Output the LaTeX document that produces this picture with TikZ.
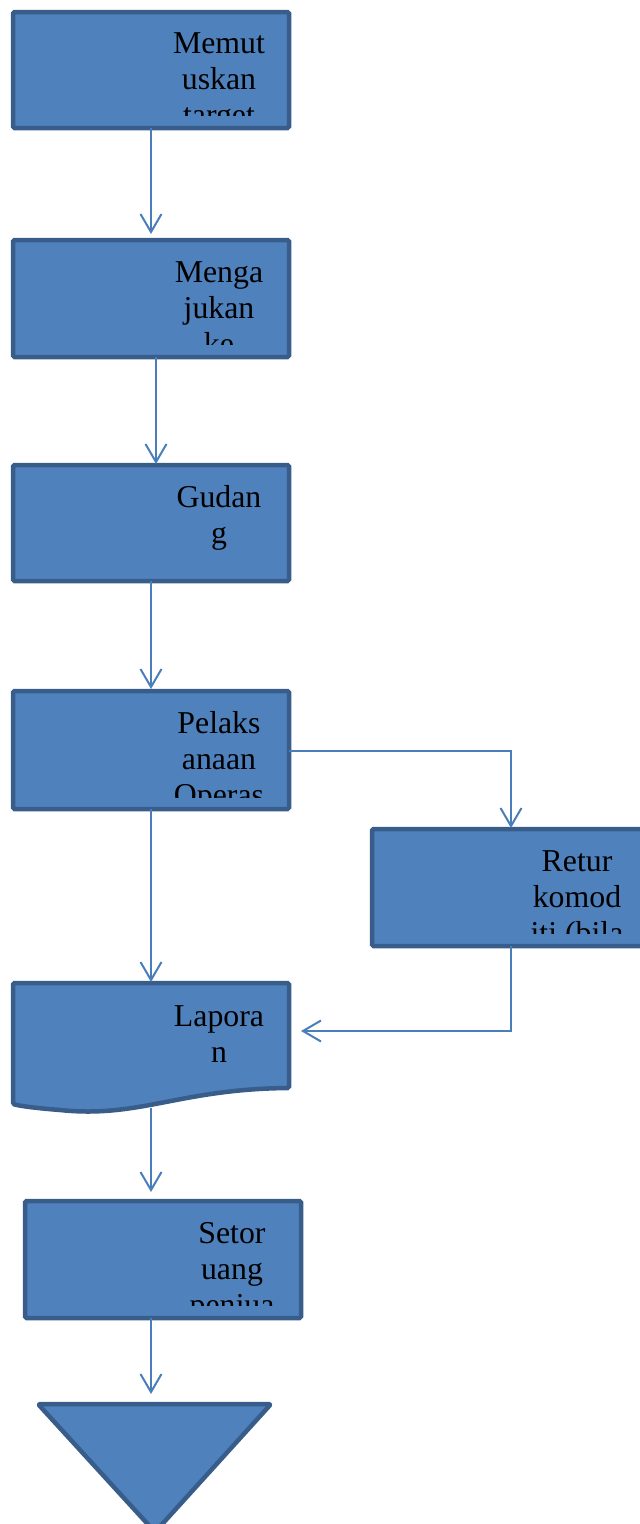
\documentclass[tikz,border=0pt]{standalone}
\usepackage{fontspec}
\setmainfont{Liberation Serif}
\usetikzlibrary{arrows.meta}
\definecolor{boxfill}{HTML}{4F81BD}
\definecolor{boxline}{HTML}{385D8A}
\definecolor{arrowc}{HTML}{4A7EBB}
\begin{document}
\begin{tikzpicture}[x=1pt,y=-1pt,
  procbox/.style={draw=boxline,fill=boxfill,line width=4.5pt,rounded corners=1.5pt},
  txt/.style={anchor=base,inner sep=0pt,font=\fontsize{31.8}{36}\selectfont,text=black},
  conn/.style={draw=arrowc,line width=2pt,-{Straight Barb[length=18pt,width=21pt]}},
  plain/.style={draw=arrowc,line width=2pt}]
\useasboundingbox (0,0) rectangle (640,1524);

% box 1
\draw[procbox] (13,12) rectangle (289,128);
\coordinate (b1s) at (151,128);
\begin{scope}
\clip (15,14) rectangle (287,115);
\node[txt] (t1a) at (219,53) {Memut};
\node[txt] (t1b) at (219,89) {uskan};
\node[txt] (t1c) at (219,125) {target};
\end{scope}

% box 2
\draw[procbox] (13,240) rectangle (289,357);
\coordinate (b2s) at (156,357);
\begin{scope}
\clip (15,242) rectangle (287,344);
\node[txt] (t2a) at (219,282) {Menga};
\node[txt] (t2b) at (219,318) {jukan};
\node[txt] (t2c) at (219,354) {ke};
\end{scope}

% box 3
\draw[procbox] (13,465) rectangle (289,581);
\coordinate (b3s) at (151,581);
\begin{scope}
\clip (15,467) rectangle (287,568);
\node[txt] (t3a) at (219,507) {Gudan};
\node[txt] (t3b) at (219,543) {g};
\end{scope}

% box 4
\draw[procbox] (13,691) rectangle (289,809);
\coordinate (b4s) at (151,809);
\coordinate (b4e) at (289,751);
\begin{scope}
\clip (15,693) rectangle (287,797);
\node[txt] (t4a) at (219,733) {Pelaks};
\node[txt] (t4b) at (219,769) {anaan};
\node[txt] (t4c) at (219,805) {Operas};
\end{scope}

% box 5 (Retur)
\draw[procbox] (372,829) rectangle (650,946);
\coordinate (b5s) at (511,946);
\begin{scope}
\clip (374,831) rectangle (640,933);
\node[txt] (t5a) at (577,871) {Retur};
\node[txt] (t5b) at (577,907) {komod};
\node[txt] (t5c) at (577,943) {iti (bila};
\end{scope}

% document (Laporan)
\draw[procbox] (13,983) -- (289,983) -- (289,1088)
  .. controls (180,1089) and (140,1118) .. (60,1110)
  .. controls (35,1108) and (20,1106) .. (13,1104) -- cycle;
\coordinate (b6e) at (301,1031);
\coordinate (b6s) at (151,1108);
\node[txt] (t6a) at (219,1026) {Lapora};
\node[txt] (t6b) at (219,1062) {n};

% box 7 (Setor)
\draw[procbox] (25,1201) rectangle (301,1318);
\coordinate (b7s) at (151,1318);
\begin{scope}
\clip (27,1203) rectangle (299,1305);
\node[txt] (t7a) at (232,1243) {Setor};
\node[txt] (t7b) at (232,1279) {uang};
\node[txt] (t7c) at (232,1315) {penjua};
\end{scope}

% triangle
\draw[procbox,line join=round] (38,1404) -- (271,1404) -- (155,1532) -- cycle;

% connector end points
\coordinate (a1) at (151,234);
\coordinate (a2) at (156,464);
\coordinate (a3) at (151,689);
\coordinate (a4) at (151,982);
\coordinate (a5) at (511,828);
\coordinate (a7) at (151,1192);
\coordinate (a8) at (151,1394);
\coordinate (c45) at (511,751);
\coordinate (c56) at (511,1031);

\draw[conn] (b1s) -- (a1);
\draw[conn] (b2s) -- (a2);
\draw[conn] (b3s) -- (a3);
\draw[conn] (b4s) -- (a4);
\draw[conn] (b4e) -- (c45) -- (a5);
\draw[conn] (b5s) -- (c56) -- (b6e);
\draw[conn] (b6s) -- (a7);
\draw[conn] (b7s) -- (a8);
\end{tikzpicture}
\end{document}
